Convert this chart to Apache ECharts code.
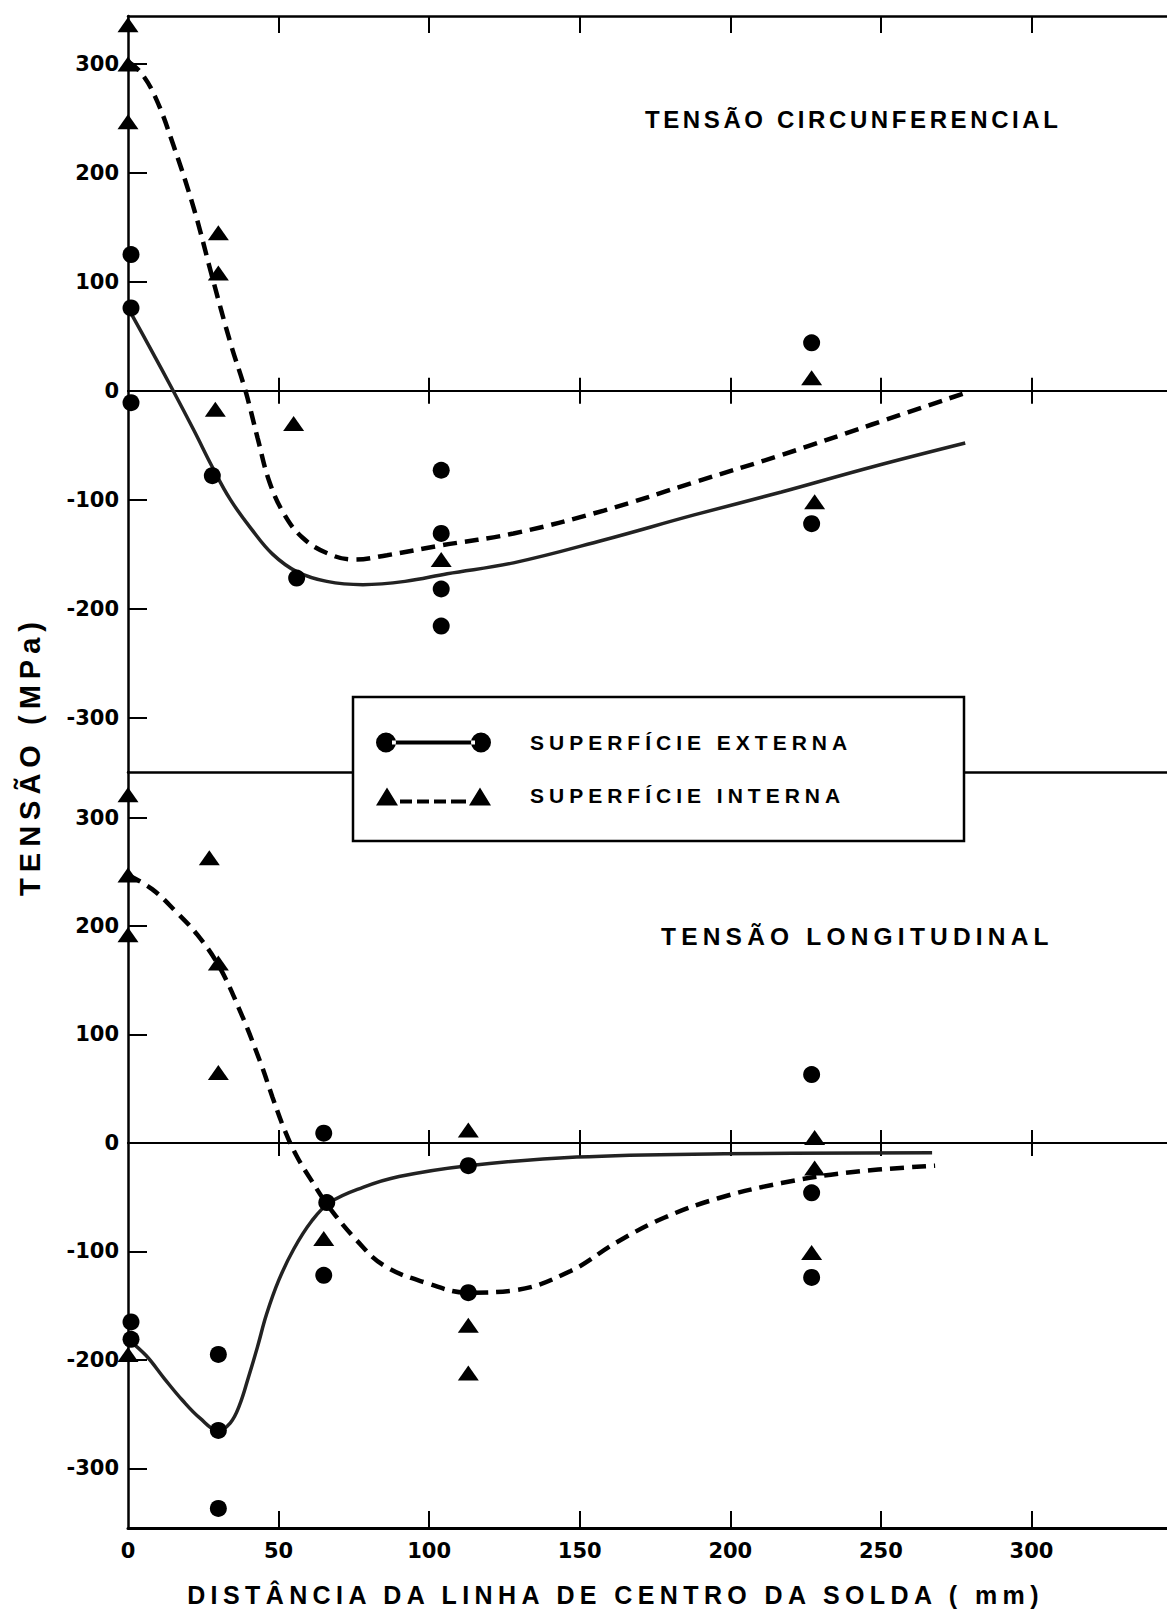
<!DOCTYPE html>
<html>
<head>
<meta charset="utf-8">
<title>Tensões residuais na solda</title>
<script src="https://cdn.jsdelivr.net/npm/echarts@6/dist/echarts.min.js"></script>
<style>
  html, body { margin: 0; padding: 0; background: #fff; }
  #chart { width: 1167px; height: 1617px; }
  /* spaced capital lettering used for the word labels */
  #chart text[style*="Liberation"][style*="24px"] { letter-spacing: 3.6px; }
  #chart text[style*="Liberation"][style*="24.5px"] { letter-spacing: 5.2px; }
  #chart text[style*="Liberation"][style*="21px"] { letter-spacing: 5px; }
  #chart text[style*="Liberation"][style*="25px"] { letter-spacing: 5.4px; }
  #chart text[style*="Liberation"][style*="29px"] { letter-spacing: 6px; }
</style>
</head>
<body>
<div id="chart"></div>
<script>
// ---- axis ticks and labels ----
const xTicks = [0, 50, 100, 150, 200, 250, 300];
const xInnerTicks = [50, 100, 150, 200, 250, 300];
const yTicks = [-300, -200, -100, 0, 100, 200, 300];
const legendNames = ['SUPERFÍCIE EXTERNA', 'SUPERFÍCIE INTERNA'];
const panelTitles = ['TENSÃO CIRCUNFERENCIAL', 'TENSÃO LONGITUDINAL'];
const xName = 'DISTÂNCIA DA LINHA DE CENTRO DA SOLDA ( mm)';
const yName = 'TENSÃO (MPa)';

// ---- tensão circunferencial: medições [distância mm, tensão MPa] ----
const circExternaPts = [[1, 125], [1, 76], [1, -11], [28, -78], [56, -172],
  [104, -73], [104, -131], [104, -182], [104, -216], [227, 44], [227, -122]];
const circInternaPts = [[0, 336], [0, 300], [0, 247], [30, 145], [30, 108], [29, -17],
  [55, -30], [104, -155], [227, 12], [228, -102]];
// curvas ajustadas
const circExternaCurve = [[0, 76], [7, 41], [15, 0], [22, -37], [28, -70], [34, -100],
  [41, -127], [48, -150], [56, -166], [66, -175], [78, -178], [92, -175], [106, -168],
  [128, -158], [158, -137], [188, -114], [217, -93], [247, -70], [278, -48]];
const circInternaCurve = [[0, 302], [4, 293], [9, 270], [15, 226], [22, 166], [28, 104],
  [34, 44], [39, 0], [43, -43], [47, -84], [52, -114], [58, -135], [66, -149], [75, -155],
  [86, -151], [104, -142], [128, -131], [158, -110], [188, -84], [217, -59], [247, -31],
  [278, -2]];

// ---- tensão longitudinal: medições ----
const longExternaPts = [[1, -165], [1, -181], [30, -195], [30, -265], [30, -337],
  [65, 9], [66, -55], [65, -122], [113, -21], [113, -138], [227, 63], [227, -46], [227, -124]];
const longInternaPts = [[0, 321], [0, 247], [0, 192], [0, -195], [27, 263], [30, 166],
  [30, 65], [65, -88], [113, 12], [113, -168], [113, -212], [228, 5], [228, -23], [227, -101]];
// curvas ajustadas
const longExternaCurve = [[0, -181], [6, -196], [12, -217], [18, -237], [24, -254],
  [30, -265], [34, -258], [37, -242], [40, -216], [43, -188], [46, -158], [50, -127],
  [55, -98], [61, -72], [67, -55], [78, -41], [90, -31], [113, -21], [149, -13],
  [198, -10], [267, -9]];
const longInternaCurve = [[0, 247], [8, 234], [16, 213], [23, 192], [30, 164], [37, 123],
  [44, 74], [48, 42], [52, 12], [56, -12], [61, -35], [67, -60], [76, -90], [85, -113],
  [99, -129], [113, -138], [128, -136], [147, -118], [162, -92], [178, -69], [196, -51],
  [217, -37], [240, -27], [268, -21]];

// ---- layout ----
const GRID_LEFT = 128, GRID_W = 1039, PANEL_H = 756;
const TOP_Y = 16, BOT_Y = 772;
const X_MAX = 345;
const TOP_RANGE = [-350, 344];
const BOT_RANGE = [-355, 342];

const INK = '#000';
const numFont = { fontFamily: 'DejaVu Sans', fontWeight: 'bold', fontSize: 21, color: INK };
const wordFont = { fontFamily: 'Liberation Sans', fontWeight: 'bold', color: INK };

function grid(top) {
  return { left: GRID_LEFT, top: top, width: GRID_W, height: PANEL_H,
           containLabel: false, outerBoundsMode: 'none' };
}

// x axis helper: position, whether it sits on the zero line, tick length, line width
function xAx(gridIndex, position, onZero, tickLen, lineW, extra) {
  return Object.assign({
    type: 'value', gridIndex: gridIndex, position: position,
    min: 0, max: X_MAX, interval: 50,
    axisLine: { show: true, onZero: onZero, lineStyle: { color: INK, width: lineW } },
    axisTick: { show: tickLen > 0, inside: true, length: tickLen, customValues: xInnerTicks,
                lineStyle: { color: INK, width: 2 } },
    axisLabel: { show: false },
    splitLine: { show: false }
  }, extra || {});
}

function yAx(gridIndex, range, visible) {
  return {
    type: 'value', gridIndex: gridIndex, min: range[0], max: range[1], show: visible,
    axisLine: { show: true, onZero: false, lineStyle: { color: INK, width: 2.5 } },
    axisTick: { show: true, inside: true, length: 19, customValues: yTicks,
                lineStyle: { color: INK, width: 2 } },
    axisLabel: Object.assign({ show: true, margin: 9, customValues: yTicks }, numFont),
    splitLine: { show: false }
  };
}

function lineSeries(name, data, xi, yi, dashed) {
  return {
    type: 'line', name: name, data: data, xAxisIndex: xi, yAxisIndex: yi,
    smooth: 0.4, symbol: 'none', silent: true, z: 3,
    itemStyle: { color: INK },
    lineStyle: dashed
      ? { color: INK, width: 4.5, type: [14, 8] }
      : { color: '#222', width: 3.5, type: 'solid' }
  };
}

function pointSeries(name, data, xi, yi, tri) {
  return {
    type: 'scatter', name: name, data: data, xAxisIndex: xi, yAxisIndex: yi,
    symbol: tri ? 'triangle' : 'circle', symbolSize: tri ? [21, 15] : 17,
    itemStyle: { color: INK, opacity: 1 }, silent: true, z: 4
  };
}

const iconExterna = 'path://M0,10a10,10 0 1,0 20,0a10,10 0 1,0 -20,0zM16,8h83v4h-83zM95,10a10,10 0 1,0 20,0a10,10 0 1,0 -20,0z';
const iconInterna = 'path://M0,20L11,2L22,20zM24,14h12v4h-12zM41,14h12v4h-12zM58,14h12v4h-12zM75,14h15v4h-15zM93,20L104,2L115,20zM0,0h0.1v0.1h-0.1z';

const chart = echarts.init(document.getElementById('chart'), null, { renderer: 'svg' });

chart.setOption({
  animation: false,
  backgroundColor: '#fff',
  title: [
    { text: panelTitles[0], left: 645, top: 107, padding: 0,
      textStyle: Object.assign({ fontSize: 24, lineHeight: 24 }, wordFont) },
    { text: panelTitles[1], left: 661, top: 924, padding: 0,
      textStyle: Object.assign({ fontSize: 24.5, lineHeight: 24 }, wordFont) }
  ],
  legend: {
    orient: 'vertical', left: 353, top: 697,
    padding: [35, 20, 35, 23],
    itemWidth: 115, itemHeight: 20, itemGap: 32,
    backgroundColor: '#fff', borderColor: INK, borderWidth: 2.5, borderRadius: 0,
    selectedMode: false,
    itemStyle: { borderWidth: 0, opacity: 1 },
    textStyle: Object.assign({ fontSize: 21, lineHeight: 20, padding: [0, 0, 0, 34], width: 414 }, wordFont),
    data: [
      { name: legendNames[0], icon: iconExterna },
      { name: legendNames[1], icon: iconInterna }
    ]
  },
  grid: [grid(TOP_Y), grid(TOP_Y), grid(BOT_Y), grid(BOT_Y)],
  xAxis: [
    // upper panel: top frame, zero line (both tick directions), separator
    xAx(0, 'top', false, 17, 2.5),
    xAx(0, 'bottom', true, 13, 2),
    xAx(1, 'top', true, 13, 2),
    xAx(1, 'bottom', false, 0, 2.5),
    // lower panel: labelled distance axis, zero line
    xAx(2, 'bottom', false, 17, 3, {
      axisLabel: Object.assign({ show: true, margin: 12, customValues: xTicks }, numFont),
      name: xName, nameLocation: 'middle', nameGap: 54,
      nameTextStyle: Object.assign({ fontSize: 25, lineHeight: 25, padding: [0, 64, 0, 0] }, wordFont)
    }),
    xAx(2, 'top', true, 13, 2),
    xAx(3, 'bottom', true, 13, 2)
  ],
  yAxis: [
    yAx(0, TOP_RANGE, true),
    yAx(1, TOP_RANGE, false),
    yAx(2, BOT_RANGE, true),
    yAx(3, BOT_RANGE, false)
  ],
  graphic: [
    { type: 'text', x: 30, y: 756, rotation: Math.PI / 2,
      style: { text: yName, fill: INK, align: 'center', verticalAlign: 'middle',
               font: 'bold 29px "Liberation Sans"' } }
  ],
  series: [
    lineSeries(legendNames[0], circExternaCurve, 0, 0, false),
    lineSeries(legendNames[1], circInternaCurve, 0, 0, true),
    pointSeries(legendNames[0], circExternaPts, 0, 0, false),
    pointSeries(legendNames[1], circInternaPts, 0, 0, true),
    lineSeries(legendNames[0], longExternaCurve, 4, 2, false),
    lineSeries(legendNames[1], longInternaCurve, 4, 2, true),
    pointSeries(legendNames[0], longExternaPts, 4, 2, false),
    pointSeries(legendNames[1], longInternaPts, 4, 2, true)
  ]
});
</script>
</body>
</html>
